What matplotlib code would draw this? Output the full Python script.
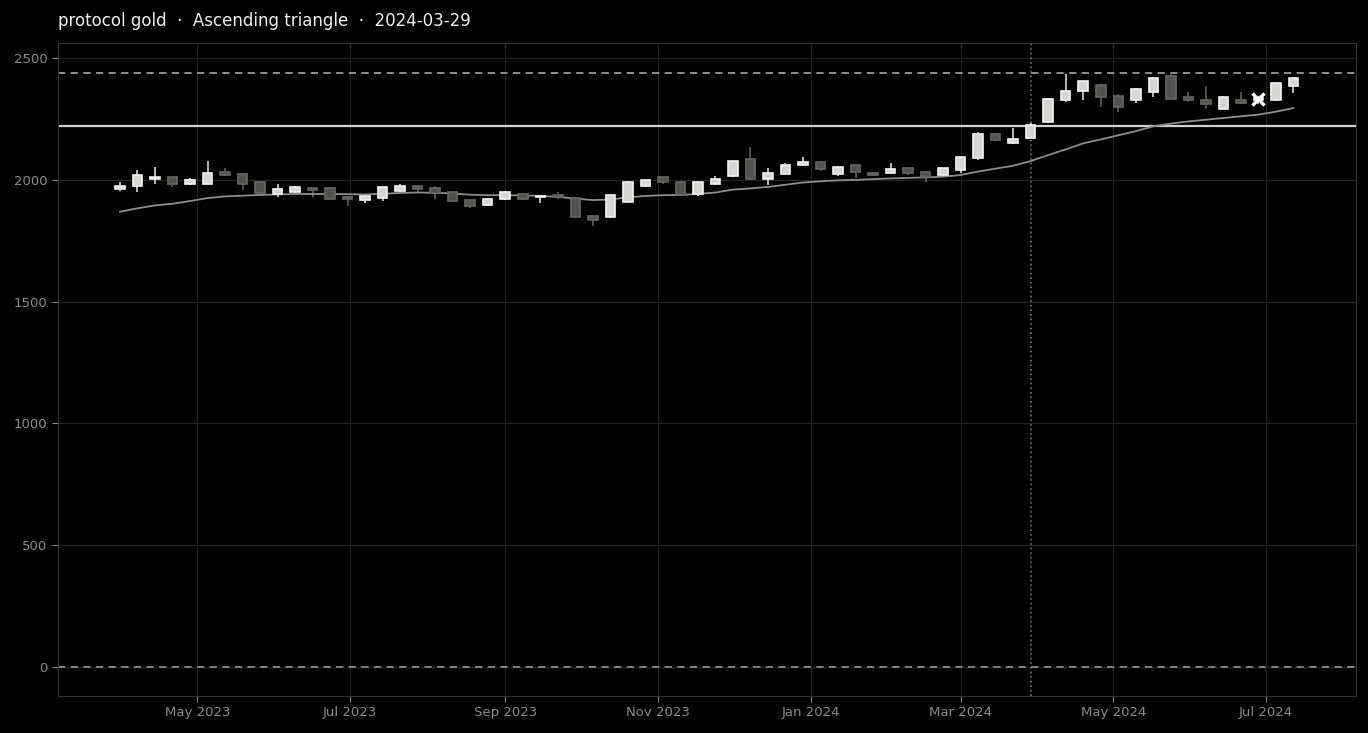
import numpy as np
import pandas as pd
import matplotlib
matplotlib.use("Agg")
import matplotlib.pyplot as plt
import matplotlib.dates as mdates

# weekly candles (Fridays)
dates = pd.date_range("2023-03-31", periods=68, freq="7D")

opens = [1961, 1973, 2003, 2010, 1984, 1981, 2032, 2024, 1990, 1943,
         1949, 1966, 1965, 1928, 1918, 1927, 1955, 1973, 1965, 1949,
         1917, 1895, 1920, 1942, 1928, 1938, 1925, 1850, 1846, 1910,
         1976, 2010, 1991, 1942, 1981, 2014, 2084, 2004, 2025, 2062,
         2072, 2022, 2060, 2027, 2027, 2047, 2033, 2018, 2039, 2088,
         2187, 2150, 2171, 2238, 2330, 2367, 2391, 2344, 2326, 2362,
         2426, 2342, 2330, 2293, 2326, 2326, 2326, 2384]
closes = [1976, 2020, 2011, 1981, 1999, 2028, 2018, 1981, 1947, 1961,
          1969, 1959, 1922, 1922, 1933, 1969, 1974, 1963, 1944, 1915,
          1891, 1920, 1949, 1920, 1935, 1928, 1849, 1834, 1936, 1991,
          1998, 1992, 1936, 1991, 2003, 2078, 2003, 2027, 2063, 2073,
          2046, 2054, 2031, 2018, 2043, 2027, 2013, 2047, 2092, 2187,
          2162, 2167, 2224, 2334, 2363, 2404, 2339, 2300, 2375, 2420,
          2334, 2326, 2310, 2339, 2316, 2336, 2396, 2420]
highs = [1990, 2040, 2051, 2011, 2006, 2076, 2047, 2025, 1992, 1985,
         1975, 1967, 1966, 1929, 1941, 1970, 1983, 1974, 1973, 1950,
         1918, 1925, 1954, 1943, 1937, 1949, 1926, 1851, 1937, 1997,
         1999, 2011, 1992, 1992, 2015, 2079, 2133, 2047, 2071, 2092,
         2073, 2055, 2061, 2032, 2068, 2048, 2034, 2048, 2093, 2197,
         2188, 2215, 2234, 2335, 2433, 2405, 2392, 2351, 2376, 2421,
         2444, 2361, 2386, 2345, 2359, 2345, 2397, 2421]
lows = [1955, 1951, 1985, 1972, 1979, 1980, 2017, 1959, 1945, 1931,
        1940, 1928, 1920, 1894, 1904, 1915, 1952, 1949, 1922, 1913,
        1886, 1894, 1919, 1919, 1906, 1922, 1848, 1812, 1845, 1909,
        1972, 1981, 1935, 1933, 1977, 2013, 1999, 1977, 2024, 2058,
        2038, 2017, 2006, 2014, 2026, 2018, 1990, 2017, 2027, 2083,
        2161, 2149, 2170, 2234, 2321, 2330, 2298, 2279, 2317, 2339,
        2333, 2321, 2289, 2292, 2315, 2312, 2325, 2355]
ma = [1869, 1883, 1895, 1902, 1913, 1925, 1932, 1935, 1938, 1940,
      1942, 1942, 1942, 1941, 1940, 1943, 1946, 1948, 1947, 1944,
      1939, 1937, 1937, 1936, 1934, 1930, 1923, 1917, 1919, 1928,
      1934, 1937, 1938, 1942, 1948, 1960, 1965, 1971, 1980, 1989,
      1994, 1998, 2000, 2003, 2006, 2008, 2010, 2013, 2020, 2034,
      2046, 2058, 2077, 2102, 2125, 2150, 2166, 2183, 2200, 2220,
      2231, 2240, 2247, 2254, 2261, 2268, 2280, 2295]

resistance = 2440
support = 2220
signal_date = pd.Timestamp("2024-03-29")
marker_date = pd.Timestamp("2024-06-28")
marker_value = 2332

BG = "#000000"
fig = plt.figure(figsize=(13.68, 7.33), dpi=100, facecolor=BG)
ax = fig.add_axes([0.0424, 0.0505, 0.9488, 0.8908], facecolor=BG)

ax.grid(True, color="#222222", linewidth=0.9)
ax.set_axisbelow(True)

x = mdates.date2num(dates)
o = np.array(opens)
c = np.array(closes)
up = c >= o
body_w = 3.8

for xi, oi, ci, hi, lo, u in zip(x, o, c, highs, lows, up):
    if u:
        fc, ec, wc = "#d6d6d2", "#f2f2f2", "#e8e8e8"
    else:
        fc, ec, wc = "#52524e", "#666662", "#666662"
    ax.vlines(xi, lo, hi, color=wc, linewidth=1.1, zorder=2)
    ax.bar(xi, abs(ci - oi), bottom=min(oi, ci), width=body_w,
           facecolor=fc, edgecolor=ec, linewidth=1.2, zorder=3)

ax.plot(x, ma, color="#8c8c8c", linewidth=1.3, zorder=2)

ax.axhline(resistance, color="#9a9a9a", linestyle=(0, (4, 3)), linewidth=1.3, zorder=1)
ax.axhline(support, color="#d0d0d0", linewidth=1.6, zorder=1)
ax.axhline(0, color="#8a8a8a", linestyle=(0, (4, 3)), linewidth=1.3, zorder=1)
ax.axvline(mdates.date2num(signal_date), color="#888888", linestyle=(0, (1, 2)),
           linewidth=1.1, zorder=1)

ax.plot(mdates.date2num(marker_date), marker_value, marker="x", markersize=9,
        color="#ffffff", markeredgewidth=2.4, zorder=5)

ax.set_xlim(mdates.date2num(pd.Timestamp("2023-03-06 06:00")),
            mdates.date2num(pd.Timestamp("2024-08-06")))
ax.set_ylim(-120, 2562)

ax.xaxis.set_major_locator(mdates.MonthLocator(bymonth=[1, 3, 5, 7, 9, 11]))
ax.xaxis.set_major_formatter(mdates.DateFormatter("%b %Y"))
ax.set_yticks([0, 500, 1000, 1500, 2000, 2500])

for s in ax.spines.values():
    s.set_color("#333333")
ax.tick_params(colors="#8a8a8a", labelsize=9.5, length=4, width=0.8)
for lbl in ax.get_xticklabels() + ax.get_yticklabels():
    lbl.set_color("#8a8a8a")

ax.set_title("protocol gold  \u00b7  Ascending triangle  \u00b7  2024-03-29",
             loc="left", color="#eeeeee", fontsize=12, pad=12)

fig.savefig("out.png", dpi=100, facecolor=BG)
